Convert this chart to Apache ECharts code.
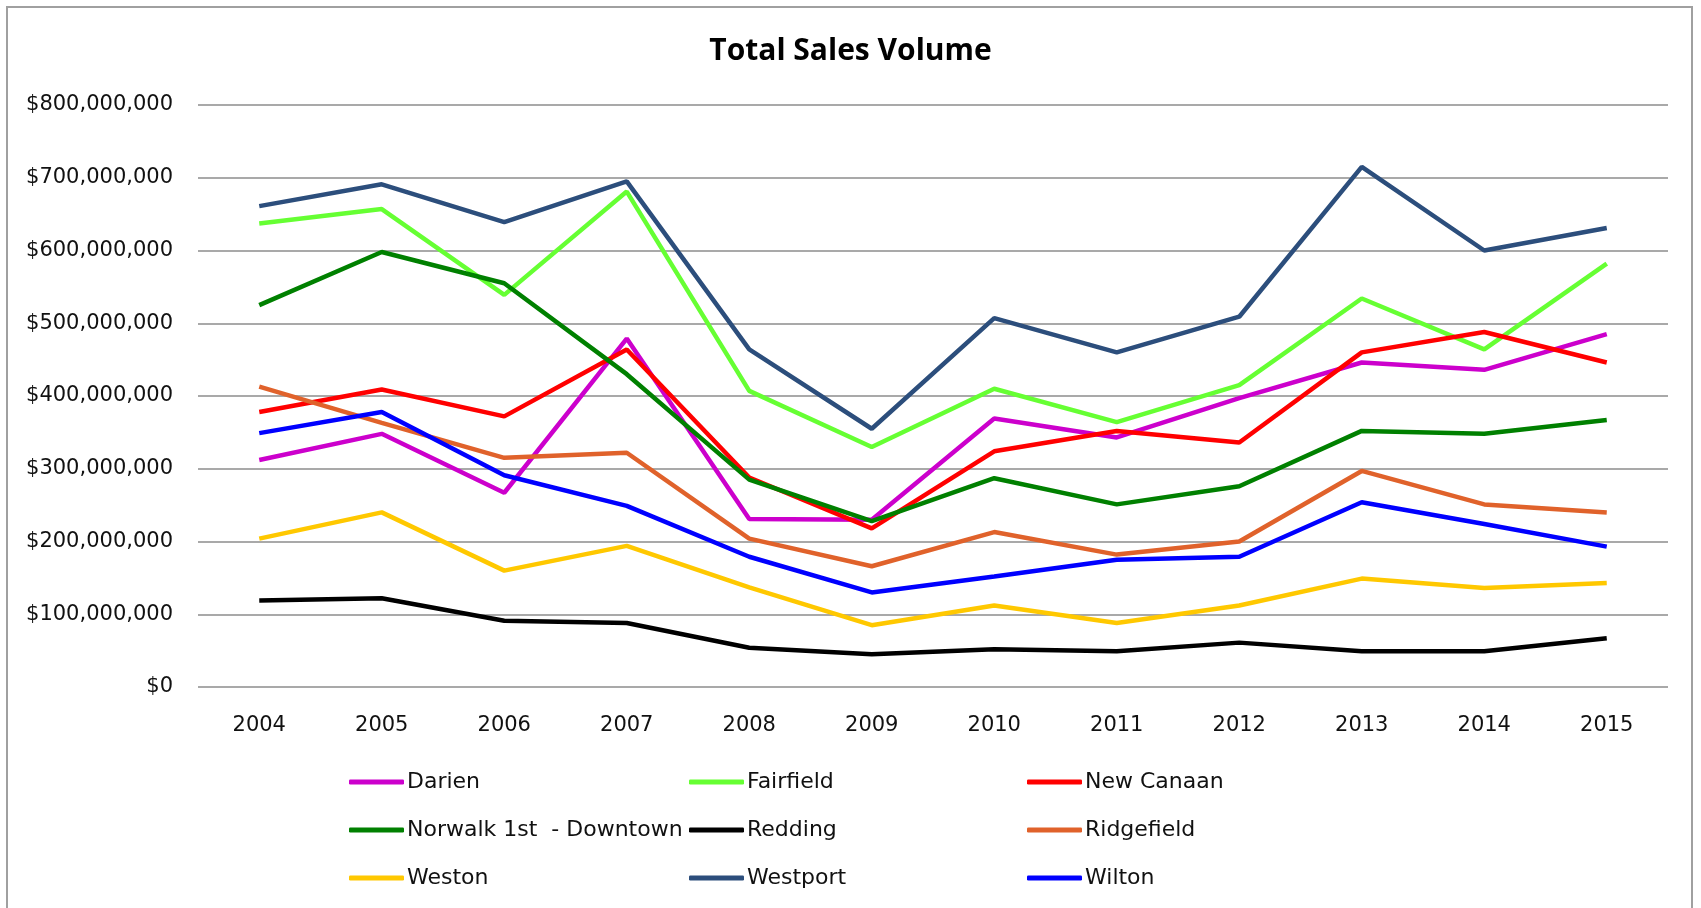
<!DOCTYPE html>
<html>
<head>
<meta charset="utf-8">
<title>Total Sales Volume</title>
<script src="https://cdn.jsdelivr.net/npm/echarts@6/dist/echarts.min.js"></script>
<style>
	html, body { margin: 0; padding: 0; background: #fff; }
	#chart { width: 1701px; height: 908px; }
</style>
</head>
<body>
<div id="chart"></div>
<script>
	var years = ['2004', '2005', '2006', '2007', '2008', '2009', '2010', '2011', '2012', '2013', '2014', '2015'];
	var towns = ['Darien', 'Fairfield', 'New Canaan', 'Norwalk 1st  - Downtown', 'Redding', 'Ridgefield', 'Weston', 'Westport', 'Wilton'];
	/* values in millions of dollars */
	var darien = [312, 348, 267, 479, 231, 230, 369, 343, 397, 446, 436, 485];
	var fairfield = [637, 657, 539, 681, 407, 330, 410, 364, 415, 534, 464, 582];
	var newCanaan = [378, 409, 372, 464, 288, 218, 324, 352, 336, 460, 488, 446];
	var norwalk = [525, 598, 555, 430, 285, 228, 287, 251, 276, 352, 348, 367];
	var redding = [119, 122, 91, 88, 54, 45, 52, 49, 61, 49, 49, 67];
	var ridgefield = [413, 363, 315, 322, 204, 166, 213, 182, 200, 297, 251, 240];
	var weston = [204, 240, 160, 194, 137, 85, 112, 88, 112, 149, 136, 143];
	var westport = [661, 691, 639, 695, 464, 355, 507, 460, 509, 715, 600, 631];
	var wilton = [349, 378, 291, 249, 179, 130, 152, 175, 179, 254, 224, 193];
	var colorList = ['#cc00cc', '#66ff33', '#ff0000', '#008000', '#000000', '#e0622b', '#ffc800', '#2c4e7c', '#0000ff'];

	var allData = [darien, fairfield, newCanaan, norwalk, redding, ridgefield, weston, westport, wilton];
	var labelFont = 'DejaVu Sans';

	function money(v) {
		return '$' + String(v).replace(/\B(?=(\d{3})+(?!\d))/g, ',');
	}

	function createSeries() {
		var result = [];
		for (var i = 0; i < towns.length; i++) {
			result.push({
				name: towns[i],
				type: 'line',
				symbol: 'none',
				lineStyle: { width: 4.5, color: colorList[i] },
				itemStyle: { color: colorList[i] },
				data: allData[i].map(function (v) { return v * 1000000; })
			});
		}
		return result;
	}

	function createLegend(names, left) {
		return {
			orient: 'vertical',
			left: left,
			top: 771,
			itemGap: 26,
			itemWidth: 55,
			itemHeight: 5,
			icon: 'roundRect',
			padding: 0,
			textStyle: { fontFamily: labelFont, fontSize: 22, lineHeight: 22, color: '#111', padding: [0, 0, 0, -2] },
			data: names
		};
	}

	var option = {
		backgroundColor: '#ffffff',
		animation: false,
		title: {
			text: 'Total Sales Volume',
			left: 'center',
			top: 31,
			textStyle: { fontFamily: 'Open Sans', fontSize: 30, fontWeight: 'bold', color: '#000' }
		},
		grid: { left: 198, right: 33, top: 105, bottom: 221 },
		legend: [
			createLegend([towns[0], towns[3], towns[6]], 349),
			createLegend([towns[1], towns[4], towns[7]], 689),
			createLegend([towns[2], towns[5], towns[8]], 1027)
		],
		xAxis: {
			type: 'category',
			data: years,
			axisLine: { show: false },
			axisTick: { show: false },
			axisLabel: { fontFamily: labelFont, fontSize: 21, color: '#111', margin: 28 }
		},
		yAxis: {
			type: 'value',
			min: 0,
			max: 800000000,
			interval: 100000000,
			axisLine: { show: false },
			axisTick: { show: false },
			splitLine: { lineStyle: { color: '#8c8c8c', width: 1.5 } },
			axisLabel: { fontFamily: labelFont, fontSize: 21, color: '#111', margin: 25, formatter: money }
		},
		graphic: [{
			type: 'rect',
			shape: { x: 7, y: 7, width: 1685, height: 920 },
			style: { fill: null, stroke: '#a0a0a0', lineWidth: 2 },
			silent: true
		}],
		series: createSeries()
	};

	var chart = echarts.init(document.getElementById('chart'));
	chart.setOption(option);
</script>
</body>
</html>
